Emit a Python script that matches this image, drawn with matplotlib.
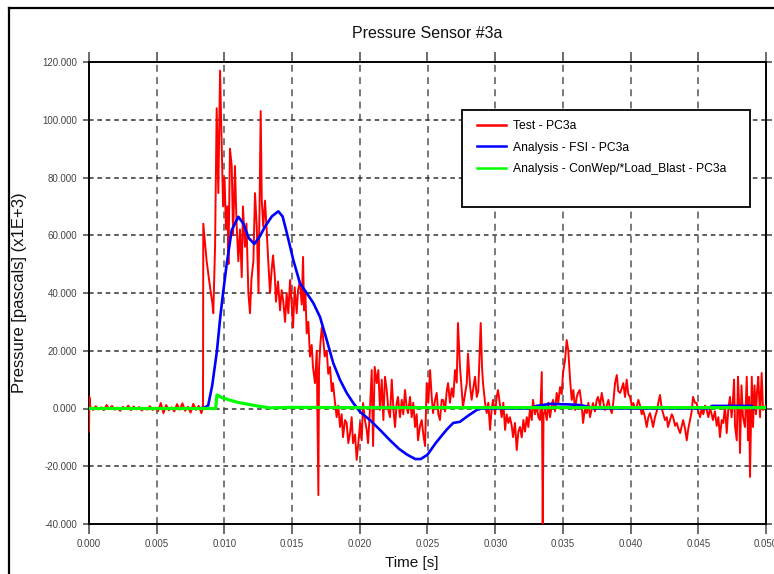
import matplotlib
matplotlib.use('Agg')
import matplotlib.pyplot as plt
from matplotlib.lines import Line2D
from matplotlib.patches import Rectangle
from matplotlib.ticker import FormatStrFormatter, MultipleLocator

plt.rcParams['font.family'] = ['Liberation Sans', 'DejaVu Sans']

# Data ===========================================
# time in ms, pressure in pascals x1E+3
test_t = [0.00, 0.03, 0.10, 0.30, 0.50, 0.70, 0.90, 1.10, 1.30, 1.50,
          1.70, 1.90, 2.10, 2.30, 2.50, 2.70, 2.90, 3.10, 3.30, 3.50,
          3.70, 3.90, 4.10, 4.30, 4.50, 4.70, 4.90, 5.10, 5.30, 5.50,
          5.70, 5.90, 6.10, 6.30, 6.50, 6.70, 6.90, 7.10, 7.30, 7.50,
          7.70, 7.90, 8.10, 8.30, 8.42, 8.44, 8.69, 8.94, 9.11, 9.18,
          9.31, 9.43, 9.55, 9.68, 9.80, 9.90, 10.01, 10.12, 10.23, 10.30,
          10.41, 10.54, 10.64, 10.78, 10.89, 11.03, 11.15, 11.28, 11.37, 11.52,
          11.63, 11.77, 11.89, 12.00, 12.14, 12.26, 12.39, 12.52, 12.68, 12.76,
          12.87, 13.00, 13.12, 13.24, 13.37, 13.49, 13.59, 13.72, 13.81, 13.96,
          14.11, 14.23, 14.35, 14.48, 14.60, 14.72, 14.85, 14.97, 15.07, 15.19,
          15.34, 15.44, 15.58, 15.71, 15.81, 15.88, 15.98, 16.08, 16.20, 16.32,
          16.45, 16.54, 16.69, 16.82, 16.94, 16.99, 17.08, 17.19, 17.28, 17.41,
          17.56, 17.67, 17.80, 17.93, 18.02, 18.17, 18.29, 18.41, 18.54, 18.66,
          18.76, 18.91, 19.03, 19.15, 19.28, 19.40, 19.50, 19.65, 19.77, 19.89,
          20.02, 20.14, 20.24, 20.38, 20.51, 20.61, 20.75, 20.88, 20.98, 21.10,
          21.25, 21.37, 21.49, 21.62, 21.74, 21.86, 21.99, 22.11, 22.23, 22.36,
          22.48, 22.60, 22.73, 22.82, 22.97, 23.10, 23.21, 23.34, 23.47, 23.56,
          23.71, 23.83, 23.95, 24.08, 24.20, 24.30, 24.45, 24.57, 24.69, 24.82,
          24.94, 25.06, 25.19, 25.31, 25.41, 25.56, 25.68, 25.80, 25.92, 26.05,
          26.17, 26.29, 26.42, 26.52, 26.66, 26.79, 26.91, 27.03, 27.16, 27.25,
          27.40, 27.53, 27.62, 27.77, 27.90, 27.99, 28.14, 28.26, 28.38, 28.51,
          28.64, 28.75, 28.93, 29.03, 29.10, 29.25, 29.37, 29.49, 29.62, 29.74,
          29.84, 29.99, 30.11, 30.21, 30.36, 30.48, 30.60, 30.73, 30.85, 30.97,
          31.09, 31.22, 31.32, 31.46, 31.59, 31.71, 31.83, 31.96, 32.08, 32.20,
          32.33, 32.45, 32.57, 32.70, 32.79, 32.94, 33.07, 33.19, 33.31, 33.44,
          33.51, 33.57, 33.68, 33.81, 33.92, 34.05, 34.17, 34.27, 34.42, 34.54,
          34.66, 34.79, 34.91, 35.01, 35.16, 35.28, 35.40, 35.53, 35.65, 35.77,
          35.90, 36.02, 36.12, 36.24, 36.39, 36.49, 36.63, 36.76, 36.88, 37.00,
          37.13, 37.22, 37.37, 37.50, 37.59, 37.74, 37.87, 37.99, 38.11, 38.24,
          38.36, 38.48, 38.61, 38.72, 38.85, 38.98, 39.09, 39.22, 39.35, 39.46,
          39.59, 39.71, 39.83, 39.96, 40.08, 40.20, 40.33, 40.45, 40.57, 40.70,
          40.82, 40.92, 41.06, 41.19, 41.31, 41.43, 41.56, 41.66, 41.80, 41.93,
          42.05, 42.17, 42.30, 42.42, 42.54, 42.67, 42.76, 42.91, 43.04, 43.14,
          43.29, 43.41, 43.53, 43.66, 43.78, 43.88, 44.02, 44.15, 44.26, 44.39,
          44.51, 44.61, 44.76, 44.88, 45.00, 45.13, 45.25, 45.37, 45.50, 45.62,
          45.74, 45.87, 45.99, 46.08, 46.23, 46.36, 46.48, 46.60, 46.73, 46.85,
          46.97, 47.10, 47.22, 47.34, 47.46, 47.56, 47.64, 47.71, 47.84, 47.93,
          48.01, 48.08, 48.19, 48.30, 48.45, 48.58, 48.67, 48.75, 48.82, 48.95,
          49.04, 49.15, 49.26, 49.34, 49.43, 49.56, 49.68, 49.78, 49.91, 50.00]
test_p = [-8, 4, 0.5, -0.5, 0.8, -0.3, 0.4, -0.6, 1.2, -0.2,
          0.9, -0.4, 0.3, -0.8, 0.6, -0.2, 1.0, -0.6, 0.7, -0.3,
          0.5, -0.7, 0.2, -0.4, 0.8, -0.5, 0.3, -0.9, 1.9, -1.6,
          1.2, -0.6, 0.4, -1.0, 1.5, -0.4, 1.8, -0.8, 0.6, -1.4,
          1.6, -0.5, 0.9, -1.6, 0.2, 64, 51, 42, 36.5, 33,
          56, 104, 74.6, 117, 92, 70, 80, 62, 70, 50,
          90, 84, 60, 84, 65, 51, 62, 45.5, 70, 56,
          64, 40, 33, 45, 51, 74.6, 63, 40, 103, 72,
          63, 72, 62, 51, 40, 48, 53, 46, 37, 44,
          34, 41, 37, 30, 40, 33, 44.5, 36, 28, 42,
          33, 41, 44, 36, 52.5, 34, 40, 26, 30, 18,
          22, 14.4, 8.8, 20, -30, 14, 22, 28, 25, 18,
          20, 12, 14.4, 6, 8.8, 2, -3, 1, -6.4, -2,
          -9.9, -4, -5, -12, -8.5, -3, -12, -9, -17.8, -12,
          -5, -11, 1.9, -4, -7.4, -12, -0.5, 13.3, -13, 14.4,
          8.8, 13.3, -0.5, 10, -4, 11, 6.4, -0.5, -3, 10,
          0, -6.4, 2, 4, -3, 3, -2, 6.4, 0, -1.6,
          4, -3, 2, -6.4, -2, -11, -6, -4, -9, -13,
          8.8, 2, 13.3, 4, -1.6, 3, 5.4, -2, -4, 3,
          2.9, -1, 6, 8.8, 2, 7, 4, 13.3, 9, 29.6,
          14.4, 6, 0.5, 5, 8.8, 19, 8, 3, 7, 11,
          4, 6, 29.6, 14, 8.8, 2, -1.6, 2, -7.4, 0,
          3, -2, 4, 6.4, 1, -3, 2, -7.4, -2, -5,
          -3, -6, -9.9, -5, -14.4, -8, -6.4, -10, -4, -8,
          -3, -6.4, 0, -4, 3, -2, 1, -3, -4, 12.6,
          -40, -2, -0.5, -4, 2, -3, 1, 3, -1, 5.4,
          2, 7.4, 5, 12.3, 16.8, 23.7, 20, 10, 3, 6.4,
          -0.5, 4, 5.4, 6.4, 1, -5, 0, -1.6, 2, -3,
          0, 1.9, -1, 3, 4, 1, 5.4, 2, -0.5, 1,
          3, 0, -1.6, 2, 8.8, 11.6, 6, 5.4, 7, 8.8,
          4, 10, 5, 4, 1, 1.9, 0, 0.5, 3, 1,
          -2, -0.5, -3, -6.4, -3, -1.6, -4, -6.4, -3, -1,
          2, 4.7, 0, -2, -4, -3, -6.4, -4, -2, -3,
          -6, -5, -7, -8.5, -6, -4, -7, -11, -7, -4,
          -1, 4, 2, 1.9, -1, -3, 0, -2, 1, -0.5,
          -3, 0, -2, -4, -1, -6, -3, -9.9, -4, -5,
          1, -8.5, 0, 4, -3, 3, 10, -6, -11, 11,
          2, -15.4, 8, -3, -6.4, 11, -11, 4, -23.7, 11,
          -6.4, 8, -2, 6, 11, -3, 12.3, -0.5, 0.5, 1]

fsi_t = [0.0, 8.0, 8.5, 8.8, 9.1, 9.45, 9.68, 9.9, 10.17, 10.54,
         11.03, 11.4, 11.8, 12.21, 12.6, 13.0, 13.5, 13.98, 14.3, 14.6,
         15.09, 15.58, 16.08, 16.57, 17.06, 17.56, 18.04, 18.54, 19.03, 19.52,
         20.02, 20.75, 21.49, 22.23, 22.9, 23.5, 24.1, 24.5, 25.0, 25.6,
         26.4, 26.9, 27.4, 28.0, 28.64, 29.0, 32.5, 33.07, 34.05, 35.53,
         36.26, 37.0, 37.3, 45.8, 46.0, 48.95, 49.1]
fsi_p = [0, 0, 0.3, 1, 8, 20, 31, 40, 50, 61.8,
         66.4, 64, 59, 57, 59.5, 63, 66.5, 68.3, 66.5, 61,
         51.4, 43.4, 40, 36.5, 31.7, 23.7, 15.7, 9.9, 5.4, 1.9,
         -1.2, -4, -7.4, -11, -14, -16, -17.5, -17.5, -16, -12,
         -7.4, -5, -4.6, -2.5, -0.5, 0, 0, 0.9, 1.6, 1.4,
         1.2, 0.5, 0, 0, 0.9, 0.9, 0]

conwep_t = [0.0, 9.35, 9.45, 9.8, 10.4, 11.0, 11.7, 12.5, 13.4, 15.0, 20.0, 50.0]
conwep_p = [0, 0, 4.7, 3.8, 2.9, 2.1, 1.5, 0.8, 0.2, 0.4, 0.3, 0.3]

labels = ['Test - PC3a', 'Analysis - FSI - PC3a',
          'Analysis - ConWep/*Load_Blast - PC3a']

# General ========================================
fig = plt.figure(figsize=(7.74, 5.74), dpi=100)
fig.patch.set_facecolor('white')
ax = fig.add_axes([89 / 774, 1 - 524 / 574, 677 / 774, 462 / 574])

# outer frame of the page (cropped at right/bottom)
fig.add_artist(Line2D([9 / 774, 1], [1 - 8 / 574] * 2, color='black', lw=1.6,
                      transform=fig.transFigure))
fig.add_artist(Line2D([9 / 774] * 2, [0, 1 - 8 / 574], color='black', lw=1.6,
                      transform=fig.transFigure))

# Graphs =========================================
sec = lambda ms: [v / 1000 for v in ms]
ax.plot(sec(test_t), test_p, color='#ff0000', lw=1.4, zorder=3, label=labels[0])
ax.plot(sec(fsi_t), fsi_p, color='#0000ff', lw=1.9, zorder=4, label=labels[1])
ax.plot(sec(conwep_t), conwep_p, color='#00ff00', lw=2.3, zorder=5, label=labels[2])

ax.set_xlim(0, 0.05)
ax.set_ylim(-40, 120)
ax.xaxis.set_major_locator(MultipleLocator(0.005))
ax.yaxis.set_major_locator(MultipleLocator(20))
ax.xaxis.set_major_formatter(FormatStrFormatter('%.3f'))
ax.yaxis.set_major_formatter(FormatStrFormatter('%.3f'))

# grid
for x in [0.005 * i for i in range(1, 10)]:
    ax.axvline(x, color='#555555', lw=1.1, ls=(0, (4.5, 3.5)), zorder=1)
for y in range(-20, 120, 20):
    ax.axhline(y, color='#333333', lw=1.1, ls=(0, (3, 2.5)), zorder=1)

# ticks
tick_family = ['Liberation Sans Narrow', 'Liberation Sans']
ax.tick_params(axis='x', direction='out', length=7, width=1.1, color='#444444',
               top=True, pad=4, labelcolor='#444444')
ax.tick_params(axis='y', direction='out', length=4.5, width=1.1, color='#444444',
               right=True, pad=4, labelcolor='#444444')
for lab in ax.get_xticklabels() + ax.get_yticklabels():
    lab.set_fontfamily(tick_family)
    lab.set_fontsize(7)

for side in ['bottom', 'top', 'left', 'right']:
    ax.spines[side].set_color('black')
    ax.spines[side].set_linewidth(1.4)

# Text ===========================================
ax.set_title('Pressure Sensor #3a', fontsize=11.5, pad=17, color='#111111')
ax.set_ylabel('Pressure [pascals] (x1E+3)', fontsize=12, color='#111111')
ax.yaxis.set_label_coords(-0.092, 0.5)
ax.set_xlabel('Time [s]', fontsize=11, color='#111111')
ax.xaxis.set_label_coords((412 - 89) / 677, -0.07)

# Legend =========================================
fig.add_artist(Rectangle((462 / 774, 1 - 207 / 574), 288 / 774, 97 / 574,
                         transform=fig.transFigure, facecolor='white',
                         edgecolor='black', lw=1.3, zorder=10))
leg = fig.legend(loc='upper left', bbox_to_anchor=(477 / 774, 1 - 120 / 574),
                 frameon=False, fontsize=8.7, handlelength=2.4,
                 handletextpad=0.6, labelspacing=0.8, borderpad=0,
                 borderaxespad=0)
leg.set_zorder(11)
for line in leg.get_lines():
    line.set_linewidth(1.8)

fig.savefig('out.png', dpi=100, facecolor='white')
